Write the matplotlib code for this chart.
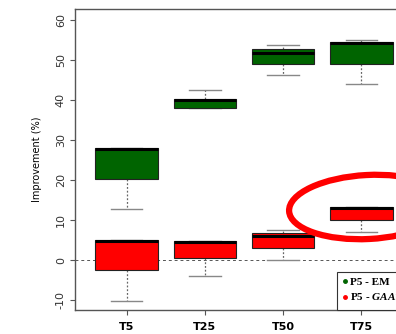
import matplotlib
matplotlib.use("Agg")
import matplotlib.pyplot as plt
from matplotlib.patches import Ellipse
from matplotlib.lines import Line2D
from matplotlib.transforms import Affine2D

plt.rcParams["mathtext.fontset"] = "custom"
plt.rcParams["mathtext.rm"] = "Liberation Serif:bold"
plt.rcParams["mathtext.it"] = "Liberation Serif:italic:bold"

categories = ["T5", "T25", "T50", "T75"]

# green series (P5 - EM): whislo, q1, med, q3, whishi
em_lo = [12.7, 38.0, 46.3, 43.9]
em_q1 = [20.3, 38.0, 48.9, 49.1]
em_med = [27.8, 40.1, 51.7, 54.3]
em_q3 = [28.0, 40.3, 52.7, 54.6]
em_hi = [28.0, 42.6, 53.8, 55.0]

# red series (P5 - GAA1)
ga_lo = [-10.2, -4.0, 0.0, 7.0]
ga_q1 = [-2.5, 0.4, 2.9, 10.0]
ga_med = [4.8, 4.6, 6.0, 13.1]
ga_q3 = [5.0, 4.8, 6.8, 13.3]
ga_hi = [5.0, 4.8, 7.5, 13.3]

y_ticks = [-10, 0, 10, 20, 30, 40, 50, 60]


def stats(lo, q1, med, q3, hi):
    return [dict(whislo=a, q1=b, med=c, q3=d, whishi=e, fliers=[])
            for a, b, c, d, e in zip(lo, q1, med, q3, hi)]


W, H = 396, 334
fig = plt.figure(figsize=(W / 100, H / 100), dpi=100)
ax = fig.add_axes([75 / W, 1 - 310 / H, 338 / W, 301 / H])

pos = list(range(1, len(categories) + 1))
frame = "#555555"
for st, col in [(stats(em_lo, em_q1, em_med, em_q3, em_hi), "#006400"),
                (stats(ga_lo, ga_q1, ga_med, ga_q3, ga_hi), "#ff0000")]:
    ax.bxp(st, positions=pos, widths=0.8, patch_artist=True, showfliers=False,
           boxprops=dict(facecolor=col, edgecolor="#222222", linewidth=0.8, zorder=2),
           medianprops=dict(color="black", linewidth=2.2, solid_capstyle="butt", zorder=3),
           whiskerprops=dict(color="#666666", linestyle=(0, (1.5, 1.5)), linewidth=0.9, zorder=1.5),
           capprops=dict(color="#888888", linewidth=1.0, zorder=1.5),
           capwidths=0.4)

ax.axhline(0, color=frame, linestyle=(0, (3, 3)), linewidth=0.7, zorder=0)

ax.set_xlim(0.34, 4.66)
ax.set_ylim(-12.5, 62.75)
ax.set_xticks(pos)
ax.set_xticklabels(categories, fontsize=8, fontweight="bold", family="DejaVu Sans")
ax.set_yticks(y_ticks)
ax.set_yticklabels([str(v) for v in y_ticks], rotation=90, va="center",
                   fontsize=8, family="DejaVu Sans", color="#333333")
ax.tick_params(axis="both", direction="out", length=3.6, color=frame, width=0.8)
ax.tick_params(axis="x", pad=5)
ax.tick_params(axis="y", pad=3)
for s in ax.spines.values():
    s.set_color(frame)
    s.set_linewidth(1.0)
ax.set_ylabel("Improvement (%)", fontsize=7, family="DejaVu Sans", labelpad=10)

handles = [Line2D([], [], marker="o", linestyle="", markersize=2.5, color="#006400"),
           Line2D([], [], marker="o", linestyle="", markersize=2.5, color="#ff0000")]
labels = ["P5 - EM", r"P5 - $GAA1^{\mathrm{TM}}$ variant"]
leg = ax.legend(handles, labels, loc="upper left",
                bbox_to_anchor=(337 / W, 1 - 272 / H), bbox_transform=fig.transFigure,
                prop=dict(family="Liberation Serif", weight="bold", size=8),
                handlelength=0.4, handletextpad=0.3, borderpad=0.5, labelspacing=0.2,
                borderaxespad=0, fancybox=False, framealpha=1, edgecolor="#333333")
leg.get_frame().set_linewidth(0.8)

# hand-drawn red highlight around the T75 red box (pixel coords, y down)
tr = Affine2D().scale(1 / W, -1 / H).translate(0, 1) + fig.transFigure
fig.patches.append(Ellipse((368, 207), 158, 64, angle=-3, transform=tr,
                           facecolor="none", edgecolor="#ff0000",
                           linewidth=4.5, zorder=10))

fig.savefig("out.png", dpi=100)
